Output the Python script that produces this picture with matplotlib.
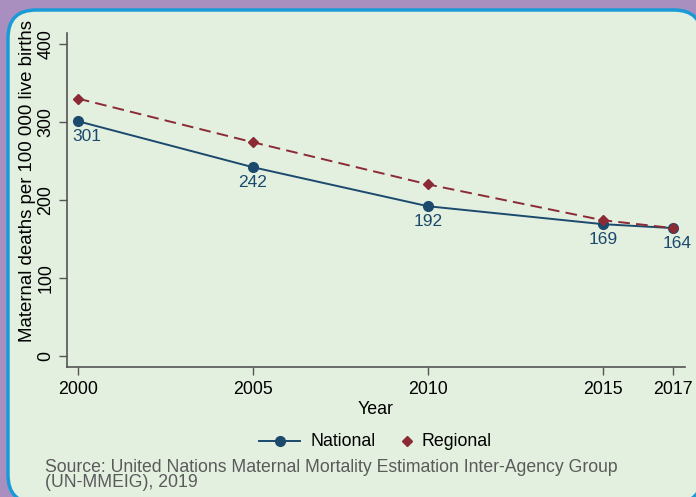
import matplotlib
matplotlib.use("Agg")
import matplotlib.pyplot as plt
from matplotlib.patches import FancyBboxPatch
from matplotlib.lines import Line2D

years = [2000, 2005, 2010, 2015, 2017]
national = [301, 242, 192, 169, 164]
regional = [330, 274, 220, 174, 164]
xticks = [2000, 2005, 2010, 2015, 2017]
yticks = [0, 100, 200, 300, 400]

plt.rcParams['font.family'] = ['Liberation Sans', 'DejaVu Sans']

W, H = 696, 497
fig = plt.figure(figsize=(W/100, H/100), dpi=100)
fig.patch.set_facecolor('#a98fc0')

# panel (pixel coordinates)
panel = FancyBboxPatch((8, -6), 694, 493,
                       boxstyle="round,pad=0,rounding_size=28",
                       transform=None, facecolor='#e3efdf',
                       edgecolor='#1a9ad6', linewidth=2.5, zorder=-5)
fig.patches.append(panel)

navy = '#1b4a6d'
maroon = '#8b2a35'

ax = fig.add_axes([67/W, 1-367/H, (685-67)/W, (367-33)/H], zorder=2)
ax.set_facecolor('none')
ax.plot(years, national, color=navy, linewidth=1.4, marker='o', markersize=7, zorder=3)
ax.plot(years, regional, color=maroon, linestyle=(0, (6, 3.2)), linewidth=1.4,
        marker='D', markersize=5.5, zorder=4)
n = len(years)
for i, (x, v) in enumerate(zip(years, national)):
    dx = 9 if i == 0 else (4 if i == n - 1 else 0)
    ax.annotate(str(v), (x, v), xytext=(dx * 0.72, -5.5), textcoords='offset points',
                ha='center', va='top', color=navy, fontsize=12.5)

ax.set_xlim(1999.69, 2017.34)
ax.set_ylim(-14, 414)
ax.set_xticks(xticks)
ax.set_yticks(yticks)
ax.set_xticklabels([str(t) for t in xticks], fontsize=12.8)
ax.set_yticklabels([str(t) for t in yticks], fontsize=12.8, rotation=90, va='center')
for s in ['top', 'right']:
    ax.spines[s].set_visible(False)
for s in ['left', 'bottom']:
    ax.spines[s].set_color('#555555')
    ax.spines[s].set_linewidth(1.2)
ax.tick_params(length=6, color='#555555', width=1, pad=4)
ax.tick_params(axis='y', pad=3)
ax.set_xlabel('Year', fontsize=12.8, labelpad=2)

fig.text(28/W, 1-181/H, 'Maternal deaths per 100 000 live births', rotation=90,
         ha='center', va='center', fontsize=13.4)

# legend (manual, figure coords)
ly = 1 - 441/H
fig.add_artist(Line2D([259/W, 300/W], [ly, ly], color=navy, linewidth=1.4,
                      transform=fig.transFigure))
fig.add_artist(Line2D([280/W], [ly], color=navy, marker='o', markersize=7,
                      transform=fig.transFigure))
fig.text(311/W, ly, 'National', ha='left', va='center', fontsize=12.8)
fig.add_artist(Line2D([407/W], [ly], color=maroon, marker='D', markersize=5,
                      linestyle='none', transform=fig.transFigure))
fig.text(421/W, ly, 'Regional', ha='left', va='center', fontsize=12.8)

fig.text(45/W, 1-475/H, 'Source: United Nations Maternal Mortality Estimation Inter-Agency Group\n(UN-MMEIG), 2019',
         ha='left', va='center', fontsize=12.7, color='#5a5a5a', linespacing=0.85)

fig.savefig('out.png', dpi=100, facecolor=fig.get_facecolor())
